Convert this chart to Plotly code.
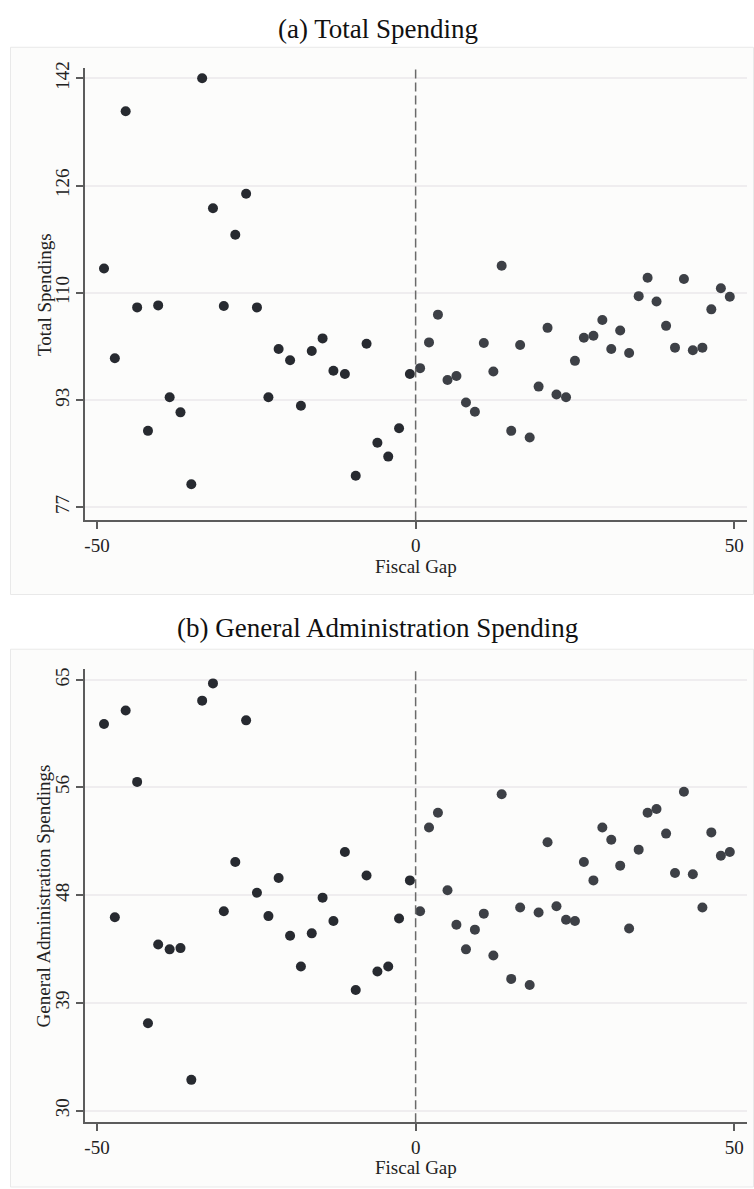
import plotly.graph_objects as go

# ---------------- data ----------------
x_left = [-48.9, -47.2, -45.5, -43.7, -42.0, -40.4, -38.6, -36.9, -35.2, -33.5,
          -31.8, -30.1, -28.3, -26.6, -24.9, -23.1, -21.5, -19.7, -18.0, -16.3,
          -14.6, -12.9, -11.1, -9.4, -7.7, -6.0, -4.3, -2.6, -0.9]
x_right = [0.7, 2.1, 3.5, 5.0, 6.4, 7.9, 9.3, 10.7, 12.2, 13.5, 15.0, 16.4,
           17.9, 19.3, 20.7, 22.1, 23.6, 25.0, 26.4, 27.9, 29.3, 30.7, 32.1,
           33.5, 35.0, 36.4, 37.8, 39.3, 40.7, 42.1, 43.5, 45.0, 46.4, 47.9, 49.3]

total_left = [113.2, 99.6, 137.0, 107.3, 88.6, 107.6, 93.7, 91.4, 80.5, 142.0,
              122.3, 107.5, 118.3, 124.5, 107.3, 93.7, 101.0, 99.3, 92.4, 100.7,
              102.6, 97.7, 97.2, 81.8, 101.8, 86.8, 84.7, 89.0, 97.2]
total_right = [98.1, 102.0, 106.2, 96.3, 96.9, 92.9, 91.5, 101.9, 97.6, 113.6,
               88.6, 101.6, 87.6, 95.3, 104.2, 94.1, 93.7, 99.2, 102.7, 103.0,
               105.4, 101.0, 103.8, 100.4, 109.0, 111.8, 108.2, 104.5, 101.2,
               111.6, 100.8, 101.2, 107.0, 110.2, 108.9]

admin_left = [61.4, 45.7, 62.5, 56.7, 37.1, 43.5, 43.1, 43.2, 32.5, 63.3,
              64.7, 46.2, 50.2, 61.7, 47.7, 45.8, 48.9, 44.2, 41.7, 44.4,
              47.3, 45.4, 51.0, 39.8, 49.1, 41.3, 41.7, 45.6, 48.7]
admin_right = [46.2, 53.0, 54.2, 47.9, 45.1, 43.1, 44.7, 46.0, 42.6, 55.7,
               40.7, 46.5, 40.2, 46.1, 51.8, 46.6, 45.5, 45.4, 50.2, 48.7,
               53.0, 52.0, 49.9, 44.8, 51.2, 54.2, 54.5, 52.5, 49.3, 55.9,
               49.2, 46.5, 52.6, 50.7, 51.0]

x_tickvals = [-50, 0, 50]
x_ticktext = ["-50", "0", "50"]
total_tickvals = [77, 93.25, 109.5, 125.75, 142]
total_ticktext = ["77", "93", "110", "126", "142"]
admin_tickvals = [30, 38.75, 47.5, 56.25, 65]
admin_ticktext = ["30", "39", "48", "56", "65"]

titles = ["(a) Total Spending", "(b) General Administration Spending"]
y_titles = ["Total Spendings", "General Administration Spendings"]
x_title = "Fiscal Gap"

# ---------------- layout helpers ----------------
W, H = 754, 1189
FONT = "Liberation Serif"


def px_x(p):
    return p / W


def px_y(p):
    return 1 - p / H


panel_a = dict(top=62, bottom=517)
panel_b = dict(top=666, bottom=1122)
plot_left, plot_right = 84, 747

DOT_L = "#272a30"
DOT_R = "#3d4046"
AXIS = "#5c5c5c"
GRID = "#efedef"

fig = go.Figure()

for xa, ya, yl, yr in [("x", "y", total_left, total_right),
                       ("x2", "y2", admin_left, admin_right)]:
    fig.add_trace(go.Scatter(x=x_left, y=yl, mode="markers", xaxis=xa, yaxis=ya,
                             marker=dict(size=10, color=DOT_L), showlegend=False,
                             cliponaxis=False))
    fig.add_trace(go.Scatter(x=x_right, y=yr, mode="markers", xaxis=xa, yaxis=ya,
                             marker=dict(size=10, color=DOT_R), showlegend=False,
                             cliponaxis=False))

common_x = dict(range=[-51.9, 52.0], tickvals=x_tickvals, ticktext=x_ticktext,
                showgrid=False, zeroline=False, showline=True, linecolor=AXIS,
                linewidth=1.5, ticks="outside", ticklen=7, tickwidth=1.5,
                tickcolor=AXIS, tickfont=dict(family=FONT, size=19, color="#222"),
                domain=[px_x(plot_left), px_x(plot_right)], fixedrange=True)
common_y = dict(showgrid=True, gridcolor=GRID, gridwidth=2, zeroline=False,
                showline=True, linecolor=AXIS, linewidth=1.5, ticks="outside",
                ticklen=7, tickwidth=1.5, tickcolor=AXIS, tickangle=-90,
                tickfont=dict(family=FONT, size=19, color="#222"), fixedrange=True)

fig.update_layout(
    width=W, height=H,
    margin=dict(l=0, r=0, t=0, b=0),
    paper_bgcolor="white",
    plot_bgcolor="rgba(0,0,0,0)",
    xaxis=dict(common_x, anchor="y"),
    yaxis=dict(common_y, range=[75.04, 143.6], tickvals=total_tickvals,
               ticktext=total_ticktext, anchor="x",
               domain=[px_y(panel_a["bottom"]), px_y(panel_a["top"])]),
    xaxis2=dict(common_x, anchor="y2"),
    yaxis2=dict(common_y, range=[29.05, 65.9], tickvals=admin_tickvals,
                ticktext=admin_ticktext, anchor="x2",
                domain=[px_y(panel_b["bottom"]), px_y(panel_b["top"])]),
)

shapes = []
# outer boxes
for top, bottom in [(41.5, 591.5), (646.5, 1187)]:
    shapes.append(dict(type="rect", xref="paper", yref="paper",
                       x0=px_x(9.5), x1=px_x(753.5), y0=px_y(bottom), y1=px_y(top),
                       fillcolor="#fcfcfb", line=dict(color="#e9e9e9", width=1),
                       layer="below"))
# dashed cutoff lines at x = 0
for xr, yr in [("x", "y domain"), ("x2", "y2 domain")]:
    shapes.append(dict(type="line", xref=xr, yref=yr, x0=0, x1=0, y0=0, y1=1,
                       line=dict(color="#6a6a6a", width=1.5, dash="9px,4px"),
                       layer="above"))
fig.update_layout(shapes=shapes)

annotations = []
# panel titles
for text, yc in [(titles[0], 23), (titles[1], 625)]:
    annotations.append(dict(text=text, x=px_x(377), y=px_y(yc), xref="paper",
                            yref="paper", showarrow=False, xanchor="center",
                            yanchor="middle",
                            font=dict(family=FONT, size=27, color="#111")))
# y-axis titles
for text, p in [(y_titles[0], panel_a), (y_titles[1], panel_b)]:
    yc = (p["top"] + p["bottom"]) / 2
    annotations.append(dict(text=text, x=px_x(43), y=px_y(yc), xref="paper",
                            yref="paper", showarrow=False, textangle=-90,
                            xanchor="center", yanchor="middle",
                            font=dict(family=FONT, size=19, color="#222")))
# x-axis titles
for yc in [563, 1167]:
    annotations.append(dict(text=x_title, x=px_x(415.5), y=px_y(yc), xref="paper",
                            yref="paper", showarrow=False, xanchor="center",
                            yanchor="middle",
                            font=dict(family=FONT, size=19, color="#222")))
fig.update_layout(annotations=annotations)

fig.write_html("out.html")
